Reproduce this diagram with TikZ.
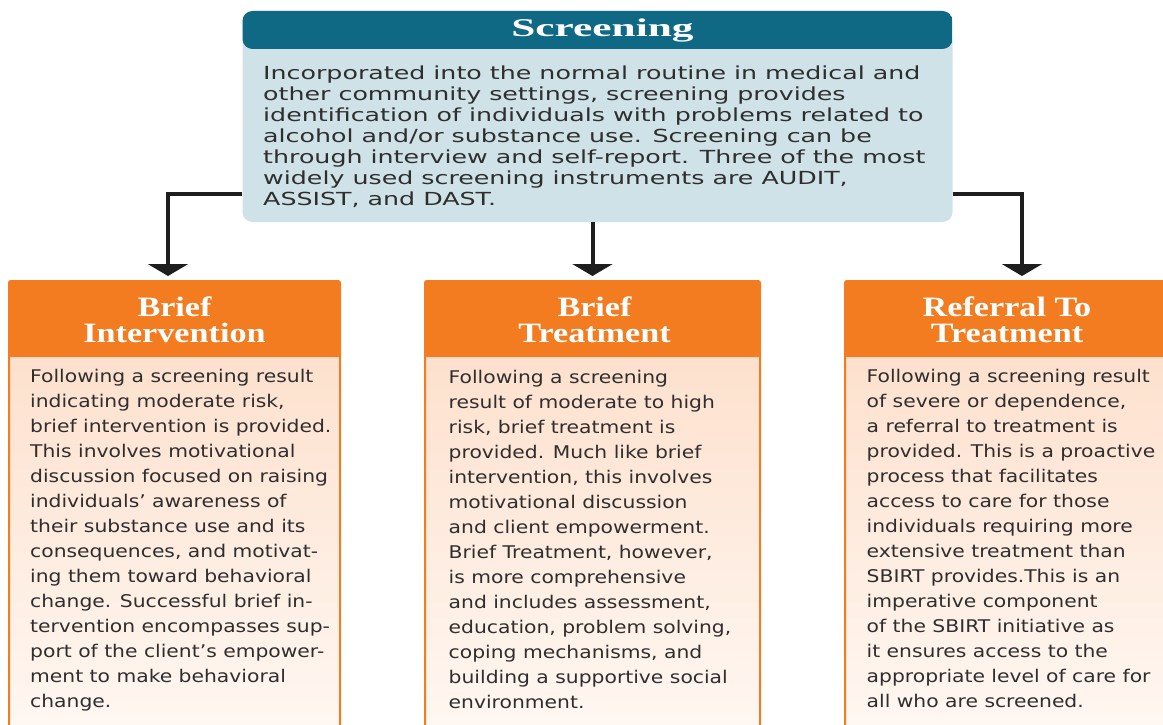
\documentclass[tikz,border=0pt]{standalone}
\usepackage{fontspec}
\usetikzlibrary{arrows.meta}
\newfontfamily\topbody[FakeStretch=1.405]{DejaVu Sans}
\newfontfamily\obody[FakeStretch=1.16]{DejaVu Sans}
\newfontfamily\ohead[FakeStretch=1.22]{Liberation Serif}
\newfontfamily\thead[FakeStretch=1.7]{Liberation Serif}
\definecolor{scrhead}{HTML}{0F6985}
\definecolor{scrbody}{HTML}{CFE2E8}
\definecolor{orng}{HTML}{F47C20}
\definecolor{peachA}{HTML}{FDDCC6}
\definecolor{peachB}{HTML}{FFF8F3}
\definecolor{txt}{HTML}{2E2E2E}
\definecolor{arrowc}{HTML}{1E1E1E}
\begin{document}
\begin{tikzpicture}[x=1pt,y=-1pt,
  obox/.style={shape=rectangle, rounded corners=2pt, draw=orng, line width=2pt,
    top color=peachA, bottom color=peachB, inner sep=0pt, minimum height=460pt,
    path picture={\fill[orng] (path picture bounding box.north west) rectangle ([yshift=-76pt]path picture bounding box.north east);}},
  ohd/.style={anchor=north, inner sep=0pt, align=center, text=white,
    font=\ohead\bfseries\fontsize{28}{26}\selectfont},
  otx/.style={anchor=north west, inner sep=0pt, align=left, text=txt,
    font=\obody\fontsize{17.5}{25}\selectfont},
  conn/.style={line width=4pt, draw=arrowc, -{Triangle[width=40pt,length=12pt]}}]
\useasboundingbox (0,0) rectangle (1163,725);
\fill[white] (0,0) rectangle (1163,725);

% Screening box
\node (scr) [shape=rectangle, rounded corners=10pt, fill=scrbody, inner sep=0pt,
  minimum width=710pt, minimum height=211pt,
  path picture={\fill[scrhead] (path picture bounding box.north west) rectangle ([yshift=-38pt]path picture bounding box.north east);}]
  at (597.5,116.5) {};
\node (scrtitle) [anchor=base, inner sep=0pt, text=white, font=\thead\bfseries\fontsize{25.5}{26}\selectfont]
  at (602.5,37) {Screening};
\node (scrtext) [anchor=north west, inner sep=0pt, align=left, text=txt,
  font=\topbody\fontsize{18}{21}\selectfont] at (263,66) {%
Incorporated into the normal routine in medical and\\
other community settings, screening provides\\
identification of individuals with problems related to\\
alcohol and/or substance use. Screening can be\\
through interview and self-report. Three of the most\\
widely used screening instruments are AUDIT,\\
ASSIST, and DAST.};

% Orange boxes
\node (bi) [obox, minimum width=331pt] at (174.5,511) {};
\node (bt) [obox, minimum width=335pt] at (592.5,511) {};
\node (rt) [obox, minimum width=324pt] at (1007,511) {};

\node (bihead) [ohd] at (174.5,297) {Brief\\Intervention};
\node (bthead) [ohd] at (594.5,297) {Brief\\Treatment};
\node (rthead) [ohd] at (1007,297) {Referral To\\Treatment};

\node (bitext) [otx] at (30,368.7) {%
Following a screening result\\
indicating moderate risk,\\
brief intervention is provided.\\
This involves motivational\\
discussion focused on raising\\
individuals’ awareness of\\
their substance use and its\\
consequences, and motivat-\\
ing them toward behavioral\\
change. Successful brief in-\\
tervention encompasses sup-\\
port of the client’s empower-\\
ment to make behavioral\\
change.};

\node (bttext) [otx] at (448.5,369.5) {%
Following a screening\\
result of moderate to high\\
risk, brief treatment is\\
provided. Much like brief\\
intervention, this involves\\
motivational discussion\\
and client empowerment.\\
Brief Treatment, however,\\
is more comprehensive\\
and includes assessment,\\
education, problem solving,\\
coping mechanisms, and\\
building a supportive social\\
environment.};

\node (rttext) [otx] at (866.5,368.7) {%
Following a screening result\\
of severe or dependence,\\
a referral to treatment is\\
provided. This is a proactive\\
process that facilitates\\
access to care for those\\
individuals requiring more\\
extensive treatment than\\
SBIRT provides.This is an\\
imperative component\\
of the SBIRT initiative as\\
it ensures access to the\\
appropriate level of care for\\
all who are screened.};

% Connectors
\coordinate (lk) at (0,194);
\draw[conn] (scr.west |- lk) -| ([xshift=-6.5pt,yshift=4pt]bi.north);
\draw[conn] (scr.south -| bt.north) -- ([yshift=4pt]bt.north);
\draw[conn] (scr.east |- lk) -| ([xshift=15pt,yshift=4pt]rt.north);
\end{tikzpicture}
\end{document}
